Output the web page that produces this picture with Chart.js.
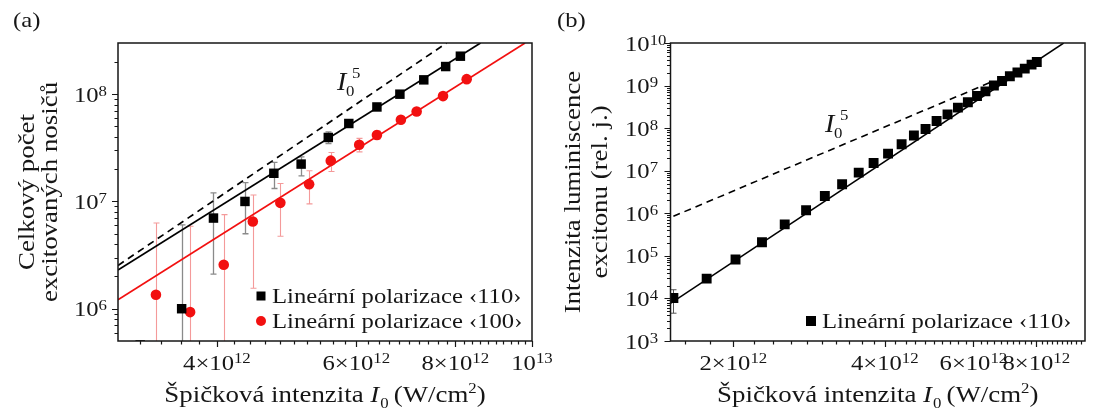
<!DOCTYPE html>
<html>
<head>
<meta charset="utf-8">
<script src="https://cdn.jsdelivr.net/npm/chart.js@4.4.1/dist/chart.umd.min.js"></script>
<style>
  body { margin: 0; background: #fff; }
  #wrap { position: relative; width: 1093px; height: 414px; }
  canvas { position: absolute; left: 0; top: 0; }
</style>
</head>
<body>
<div id="wrap">
  <canvas id="chartA" width="1093" height="414"></canvas>
  <canvas id="chartB" width="1093" height="414"></canvas>
</div>
<script>
// (a) celkový počet excitovaných nosičů, polarizace <110>
const xA110 = [3.2e12, 3.61e12, 3.96e12, 4.34e12, 4.72e12, 5.11e12, 5.53e12, 5.87e12, 6.37e12, 6.81e12, 7.30e12, 7.78e12, 8.12e12];
const yA110 = [4.6e5, 1.0e6, 7.0e6, 1.0e7, 1.83e7, 2.23e7, 3.95e7, 5.33e7, 7.6e7, 1.0e8, 1.36e8, 1.81e8, 2.26e8];
const loA110 = [null, 1e5, 2.1e6, 5.0e6, 1.32e7, 1.73e7, 3.47e7, null, null, null, null, null, null];
const hiA110 = [null, 6.05e6, 1.2e7, 1.5e7, 2.31e7, 2.6e7, 4.46e7, null, null, null, null, null, null];

// (a) polarizace <100>
const xA100 = [3.35e12, 3.70e12, 4.08e12, 4.44e12, 4.81e12, 5.23e12, 5.57e12, 6.05e12, 6.37e12, 6.83e12, 7.15e12, 7.72e12, 8.27e12];
const yA100 = [1.35e6, 9.3e5, 2.57e6, 6.5e6, 9.7e6, 1.45e7, 2.4e7, 3.38e7, 4.16e7, 5.77e7, 6.9e7, 9.6e7, 1.38e8];
const loA100 = [1e5, 1e5, 1e5, 1.55e6, 4.73e6, 9.5e6, 1.9e7, 2.9e7, 3.8e7, null, null, null, null];
const hiA100 = [6.3e6, 5.87e6, 7.54e6, 1.15e7, 1.47e7, 1.93e7, 2.86e7, 3.87e7, 4.55e7, null, null, null, null];

// (a) fity a závislost I0^5
const fitA110x = [3e12, 8.61e12], fitA110y = [2.3e6, 3e8];
const fitA100x = [3e12, 9.8e12],  fitA100y = [1.21e6, 3e8];
const powA5x = [3e12, 7.8e12],    powA5y = [2.53e6, 3e8];

const xTicksA = [4e12, 6e12, 8e12, 1e13];
const xLabelsA = [['4×10', '12'], ['6×10', '12'], ['8×10', '12'], ['10', '13']];
const yTicksA = [1e6, 1e7, 1e8];
const yLabelsA = [['10', '6'], ['10', '7'], ['10', '8']];

// (b) intenzita luminiscence excitonu
const xB = [1.52e12, 1.77e12, 2.02e12, 2.28e12, 2.53e12, 2.79e12, 3.04e12, 3.29e12, 3.55e12, 3.80e12, 4.06e12, 4.32e12, 4.57e12, 4.82e12,
            5.07e12, 5.33e12, 5.59e12, 5.85e12, 6.10e12, 6.34e12, 6.59e12, 6.84e12, 7.09e12, 7.34e12, 7.59e12, 7.83e12, 8.02e12];
const yB = [1.02e4, 2.92e4, 8.2e4, 2.08e5, 5.5e5, 1.18e6, 2.55e6, 4.8e6, 9.0e6, 1.52e7, 2.52e7, 4.17e7, 6.7e7, 9.55e7,
            1.47e8, 2.11e8, 3.04e8, 4.05e8, 5.7e8, 7.3e8, 1.0e9, 1.28e9, 1.65e9, 2.02e9, 2.5e9, 3.11e9, 3.58e9];
const loB = [4.5e3];
const hiB = [1.6e4];

const fitBx = [1.5e12, 9.07e12], fitBy = [7.7e3, 1e10];
const powB5x = [1.52e12, 6.5e12], powB5y = [8.5e5, 1.2e9];

const xTicksB = [2e12, 4e12, 6e12, 8e12];
const xLabelsB = [['2×10', '12'], ['4×10', '12'], ['6×10', '12'], ['8×10', '12']];
const yTicksB = [1e3, 1e4, 1e5, 1e6, 1e7, 1e8, 1e9, 1e10];
const yLabelsB = [['10', '3'], ['10', '4'], ['10', '5'], ['10', '6'], ['10', '7'], ['10', '8'], ['10', '9'], ['10', '10']];

const legendText = ['Lineární polarizace ‹110›', 'Lineární polarizace ‹100›'];

const SERIF = '"Liberation Serif", "Times New Roman", serif';
const SX = 1.12;          // text is a bit wider than the regular serif
const INK = '#161616';
const RED = '#f21010';

function pts(xs, ys) {
  return xs.map((x, i) => ({ x: x, y: ys[i] }));
}

function textWidth(ctx, s, size, italic) {
  ctx.font = (italic ? 'italic ' : '') + size + 'px ' + SERIF;
  return ctx.measureText(s).width * SX;
}

// segments: {t, size, italic, dy, gap}
function rich(ctx, segs, x, y, align) {
  const total = segs.reduce((w, s) => w + textWidth(ctx, s.t, s.size, s.italic) + (s.gap || 0), 0);
  let cx = x;
  if (align === 'center') cx = x - total / 2;
  else if (align === 'right') cx = x - total;
  segs.forEach(s => {
    ctx.save();
    ctx.font = (s.italic ? 'italic ' : '') + s.size + 'px ' + SERIF;
    ctx.fillStyle = INK;
    ctx.textAlign = 'left';
    ctx.textBaseline = 'alphabetic';
    ctx.translate(cx, y + (s.dy || 0));
    ctx.scale(SX, 1);
    ctx.fillText(s.t, 0, 0);
    ctx.restore();
    cx += textWidth(ctx, s.t, s.size, s.italic) + (s.gap || 0);
  });
  return total;
}

function powLabel(ctx, lab, x, y, align, supDy) {
  return rich(ctx, [{ t: lab[0], size: 22 }, { t: lab[1], size: 15, dy: supDy }], x, y, align);
}

function intensityTitle(ctx, cx, y) {
  rich(ctx, [
    { t: 'Špičková intenzita ', size: 24 },
    { t: 'I', size: 24, italic: true, gap: 1 },
    { t: '0', size: 15, dy: 6, gap: 5 },
    { t: '(W/cm', size: 24 },
    { t: '2', size: 15, dy: -9 },
    { t: ')', size: 24 }
  ], cx, y, 'center');
}

function powerNote(ctx, x, y) {
  rich(ctx, [{ t: 'I', size: 25, italic: true }], x, y, 'left');
  rich(ctx, [{ t: '0', size: 15 }], x + 9, y + 6, 'left');
  rich(ctx, [{ t: '5', size: 15 }], x + 15, y - 12, 'left');
}

function minorLog(lo, hi, d0, d1) {
  const out = [];
  for (let d = d0; d <= d1; d++) {
    for (let m = 2; m <= 9; m++) {
      const v = m * Math.pow(10, d);
      if (v > lo * 1.001 && v < hi * 0.999) out.push(v);
    }
  }
  return out;
}

function minorStep(k0, k1, skip) {
  const out = [];
  for (let k = k0; k <= k1; k++) {
    if (skip.indexOf(k) < 0) out.push(k * 0.2e12);
  }
  return out;
}

// error bars, drawn under the markers
function errorBars(sets) {
  return {
    id: 'errorBars',
    beforeDatasetsDraw(chart) {
      const { ctx, chartArea: a, scales: { x, y } } = chart;
      ctx.save();
      ctx.beginPath();
      ctx.rect(a.left, a.top, a.right - a.left, a.bottom - a.top);
      ctx.clip();
      sets.forEach(s => {
        ctx.strokeStyle = s.color;
        ctx.lineWidth = s.width;
        s.lo.forEach((lo, i) => {
          if (lo == null) return;
          const px = Math.round(x.getPixelForValue(s.x[i])) + 0.5;
          const p1 = y.getPixelForValue(lo);
          const p2 = y.getPixelForValue(s.hi[i]);
          ctx.beginPath();
          ctx.moveTo(px, p1); ctx.lineTo(px, p2);
          ctx.moveTo(px - s.cap, p1); ctx.lineTo(px + s.cap, p1);
          ctx.moveTo(px - s.cap, p2); ctx.lineTo(px + s.cap, p2);
          ctx.stroke();
        });
      });
      ctx.restore();
    }
  };
}

// frame, ticks, tick labels, titles and legend
function decor(cfg) {
  return {
    id: 'decor',
    afterDatasetsDraw(chart) {
      const { ctx, chartArea: a, scales: { x, y } } = chart;
      ctx.save();
      ctx.strokeStyle = INK;
      ctx.lineWidth = 1.2;
      ctx.beginPath();
      cfg.xMajor.forEach(v => { const p = Math.round(x.getPixelForValue(v)) + 0.5; ctx.moveTo(p, a.bottom); ctx.lineTo(p, a.bottom + 6); });
      cfg.xMinor.forEach(v => { const p = Math.round(x.getPixelForValue(v)) + 0.5; ctx.moveTo(p, a.bottom); ctx.lineTo(p, a.bottom + 3.5); });
      cfg.yMajor.forEach(v => { const p = Math.round(y.getPixelForValue(v)) + 0.5; ctx.moveTo(a.left, p); ctx.lineTo(a.left - 6, p); });
      cfg.yMinor.forEach(v => { const p = Math.round(y.getPixelForValue(v)) + 0.5; ctx.moveTo(a.left, p); ctx.lineTo(a.left - 3.5, p); });
      ctx.stroke();
      ctx.lineWidth = 1.5;
      ctx.strokeRect(a.left, a.top, a.right - a.left, a.bottom - a.top);
      ctx.restore();

      cfg.xMajor.forEach((v, i) => powLabel(ctx, cfg.xLabels[i], x.getPixelForValue(v), a.bottom + 29, 'center', -7));
      cfg.yMajor.forEach((v, i) => {
        const p = y.getPixelForValue(v) + 7.5;
        powLabel(ctx, cfg.yLabels[i], cfg.yLabelX, p, cfg.yAlign, -6);
      });

      intensityTitle(ctx, (a.left + a.right) / 2, 402);

      const cy = (a.top + a.bottom) / 2;
      cfg.yTitle.forEach((line, i) => {
        ctx.save();
        ctx.translate(cfg.yTitleX[i], cy);
        ctx.rotate(-Math.PI / 2);
        rich(ctx, [{ t: line, size: 24 }], 0, 0, 'center');
        ctx.restore();
      });

      rich(ctx, [{ t: cfg.tag, size: 22 }], cfg.tagX, 27, 'left');
      powerNote(ctx, cfg.noteX, cfg.noteY);

      cfg.legend.forEach(item => {
        ctx.save();
        ctx.fillStyle = item.color;
        if (item.shape === 'rect') {
          ctx.fillRect(item.x - item.s / 2, item.y - item.s / 2, item.s, item.s);
        } else {
          ctx.beginPath();
          ctx.arc(item.x, item.y, item.s / 2, 0, Math.PI * 2);
          ctx.fill();
        }
        ctx.restore();
        rich(ctx, [{ t: item.text, size: 22 }], item.x + 11, item.y + 7, 'left');
      });
    }
  };
}

function baseOptions(pad, xr, yr) {
  return {
    responsive: false,
    devicePixelRatio: 1,
    animation: false,
    events: [],
    layout: { padding: pad, autoPadding: false },
    scales: {
      x: { type: 'logarithmic', min: xr[0], max: xr[1], display: false },
      y: { type: 'logarithmic', min: yr[0], max: yr[1], display: false }
    },
    plugins: { legend: { display: false }, tooltip: { enabled: false } }
  };
}

// --- graf (a) ---
new Chart(document.getElementById('chartA'), {
  type: 'scatter',
  data: {
    datasets: [
      { data: pts(xA110, yA110), pointStyle: 'rect', pointRadius: 6.7, backgroundColor: '#000', borderWidth: 0, clip: 0 },
      { data: pts(xA100, yA100), pointStyle: 'circle', pointRadius: 5.3, backgroundColor: RED, borderWidth: 0, clip: 0 },
      { type: 'line', data: pts(fitA110x, fitA110y), borderColor: '#000', borderWidth: 1.7, pointRadius: 0, clip: 0 },
      { type: 'line', data: pts(fitA100x, fitA100y), borderColor: RED, borderWidth: 1.7, pointRadius: 0, clip: 0 },
      { type: 'line', data: pts(powA5x, powA5y), borderColor: '#000', borderWidth: 1.7, borderDash: [7, 5], pointRadius: 0, clip: 0 }
    ]
  },
  options: baseOptions({ left: 118, right: 561, top: 43, bottom: 73 }, [3e12, 1e13], [5e5, 3e8]),
  plugins: [
    errorBars([
      { x: xA110, lo: loA110, hi: hiA110, color: '#8a8a8a', width: 1.3, cap: 3 },
      { x: xA100, lo: loA100, hi: hiA100, color: '#f49a9a', width: 1.1, cap: 3 }
    ]),
    decor({
      xMajor: xTicksA, xLabels: xLabelsA, xMinor: minorStep(16, 49, [20, 30, 40]),
      yMajor: yTicksA, yLabels: yLabelsA, yMinor: minorLog(5e5, 3e8, 5, 8),
      yAlign: 'right', yLabelX: 107,
      yTitle: ['Celkový počet', 'excitovaných nosičů'], yTitleX: [34, 57],
      tag: '(a)', tagX: 13,
      noteX: 337, noteY: 90,
      legend: [
        { shape: 'rect', color: '#000', x: 261, y: 296, s: 9, text: legendText[0] },
        { shape: 'circle', color: RED, x: 261, y: 321, s: 10, text: legendText[1] }
      ]
    })
  ]
});

// --- graf (b) ---
new Chart(document.getElementById('chartB'), {
  type: 'scatter',
  data: {
    datasets: [
      { data: pts(xB, yB), pointStyle: 'rect', pointRadius: 7, backgroundColor: '#000', borderWidth: 0, clip: 0 },
      { type: 'line', data: pts(fitBx, fitBy), borderColor: '#000', borderWidth: 1.5, pointRadius: 0, clip: 0 },
      { type: 'line', data: pts(powB5x, powB5y), borderColor: '#000', borderWidth: 1.6, borderDash: [7, 5], pointRadius: 0, clip: 0 }
    ]
  },
  options: baseOptions({ left: 670.5, right: 8, top: 43, bottom: 73 }, [1.5e12, 1e13], [1e3, 1e10]),
  plugins: [
    errorBars([
      { x: xB, lo: loB, hi: hiB, color: '#555', width: 1, cap: 3 }
    ]),
    decor({
      xMajor: xTicksB, xLabels: xLabelsB, xMinor: minorStep(8, 49, [10, 20, 30, 40]),
      yMajor: yTicksB, yLabels: yLabelsB, yMinor: minorLog(1e3, 1e10, 3, 9),
      yAlign: 'left', yLabelX: 625,
      yTitle: ['Intenzita luminiscence', 'excitonu (rel. j.)'], yTitleX: [580, 607],
      tag: '(b)', tagX: 557,
      noteX: 825, noteY: 132,
      legend: [
        { shape: 'rect', color: '#000', x: 811, y: 321, s: 10, text: legendText[0] }
      ]
    })
  ]
});
</script>
</body>
</html>
